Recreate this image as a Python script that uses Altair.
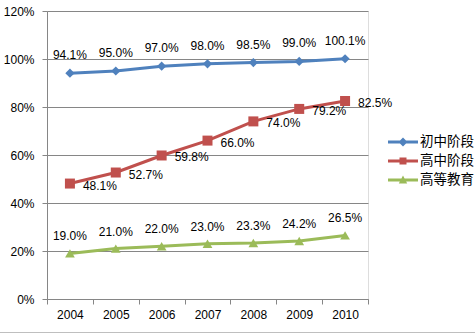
import altair as alt
import pandas as pd

years = ["2004", "2005", "2006", "2007", "2008", "2009", "2010"]
series_names = ["初中阶段", "高中阶段", "高等教育"]
junior = [94.1, 95.0, 97.0, 98.0, 98.5, 99.0, 100.1]
senior = [48.1, 52.7, 59.8, 66.0, 74.0, 79.2, 82.5]
higher = [19.0, 21.0, 22.0, 23.0, 23.3, 24.2, 26.5]
y_ticks = [0, 20, 40, 60, 80, 100, 120]

colors = ["#4F81BD", "#C0504D", "#9BBB59"]
shapes = ["diamond", "square", "triangle-up"]
sizes = [85, 100, 95]
bar = "M-1.5,-0.15L1.5,-0.15L1.5,0.15L-1.5,0.15Z"
legend_paths = [
    bar + "M0,-0.45L0.45,0L0,0.45L-0.45,0Z",
    bar + "M-0.35,-0.35L0.35,-0.35L0.35,0.35L-0.35,0.35Z",
    bar + "M0,-0.45L0.42,0.35L-0.42,0.35Z",
]

rows = []
for name, vals in zip(series_names, [junior, senior, higher]):
    for y, v in zip(years, vals):
        rows.append({"year": y, "series": name, "value": v, "label": f"{v:.1f}%"})
df = pd.DataFrame(rows)

FONT = "Liberation Sans"
GRID = "#868686"

x_enc = alt.X(
    "year:O",
    bandPosition=0.5,
    sort=years,
    scale=alt.Scale(type="band", paddingInner=0, paddingOuter=0),
    axis=alt.Axis(
        title=None, labelAngle=0, tickBand="extent", tickSize=5,
        labelPadding=5, domainColor=GRID, tickColor=GRID, labelColor="#000000",
        labelFont=FONT, labelFontSize=12, grid=False,
    ),
)
y_enc = alt.Y(
    "value:Q",
    scale=alt.Scale(domain=[0, 120], nice=False, zero=True),
    axis=alt.Axis(
        title=None, values=y_ticks, labelExpr="datum.value + '%'", tickSize=5,
        labelPadding=8, domainColor=GRID, tickColor=GRID, gridColor=GRID,
        labelColor="#000000", labelFont=FONT, labelFontSize=12, grid=True,
    ),
)

base = alt.Chart(df).encode(x=x_enc, y=y_enc)

layers = []
for name, col in zip(series_names, colors):
    layers.append(
        base.mark_line(strokeWidth=3, color=col).transform_filter(alt.datum.series == name)
    )
for name, col, shp, sz in zip(series_names, colors, shapes, sizes):
    layers.append(
        base.mark_point(filled=True, size=sz, opacity=1, shape=shp, color=col)
        .transform_filter(alt.datum.series == name)
    )

txt_kw = dict(font=FONT, fontSize=12, color="#000000")
layers.append(base.mark_text(dy=-18, **txt_kw).encode(text="label:N").transform_filter(
    alt.datum.series == series_names[0]))
layers.append(base.mark_text(align="left", dx=13, dy=2, **txt_kw).encode(text="label:N").transform_filter(
    alt.datum.series == series_names[1]))
layers.append(base.mark_text(dy=-17, **txt_kw).encode(text="label:N").transform_filter(
    alt.datum.series == series_names[2]))

leg_props = dict(
    title=None, orient="none", legendX=346, legendY=121,
    symbolSize=400, symbolStrokeWidth=0, symbolOpacity=1,
    labelFont="Noto Sans CJK SC", labelFontSize=13.5, labelColor="#000000",
    labelOffset=7, padding=0,
)
legend_layer = base.mark_point(filled=True, opacity=1).encode(
    color=alt.Color("series:N", scale=alt.Scale(domain=series_names, range=colors),
                    legend=alt.Legend(**leg_props)),
    shape=alt.Shape("series:N", scale=alt.Scale(domain=series_names, range=legend_paths),
                    legend=alt.Legend(**leg_props)),
).transform_filter("false")
layers.append(legend_layer)

layers.append(alt.Chart(df).mark_rule(color="#BFBFBF", strokeWidth=1).encode(
    x=alt.value(-47), x2=alt.value(428), y=alt.value(321.5)
))

chart = alt.layer(*layers).properties(
    width=321, height=288,
    autosize=alt.AutoSizeParams(type="none"),
    padding={"left": 47, "top": 11, "right": 107, "bottom": 34},
).configure_view(stroke=None).configure(background="white")

chart.save("out.html", embed_options={"renderer": "svg", "actions": False})
